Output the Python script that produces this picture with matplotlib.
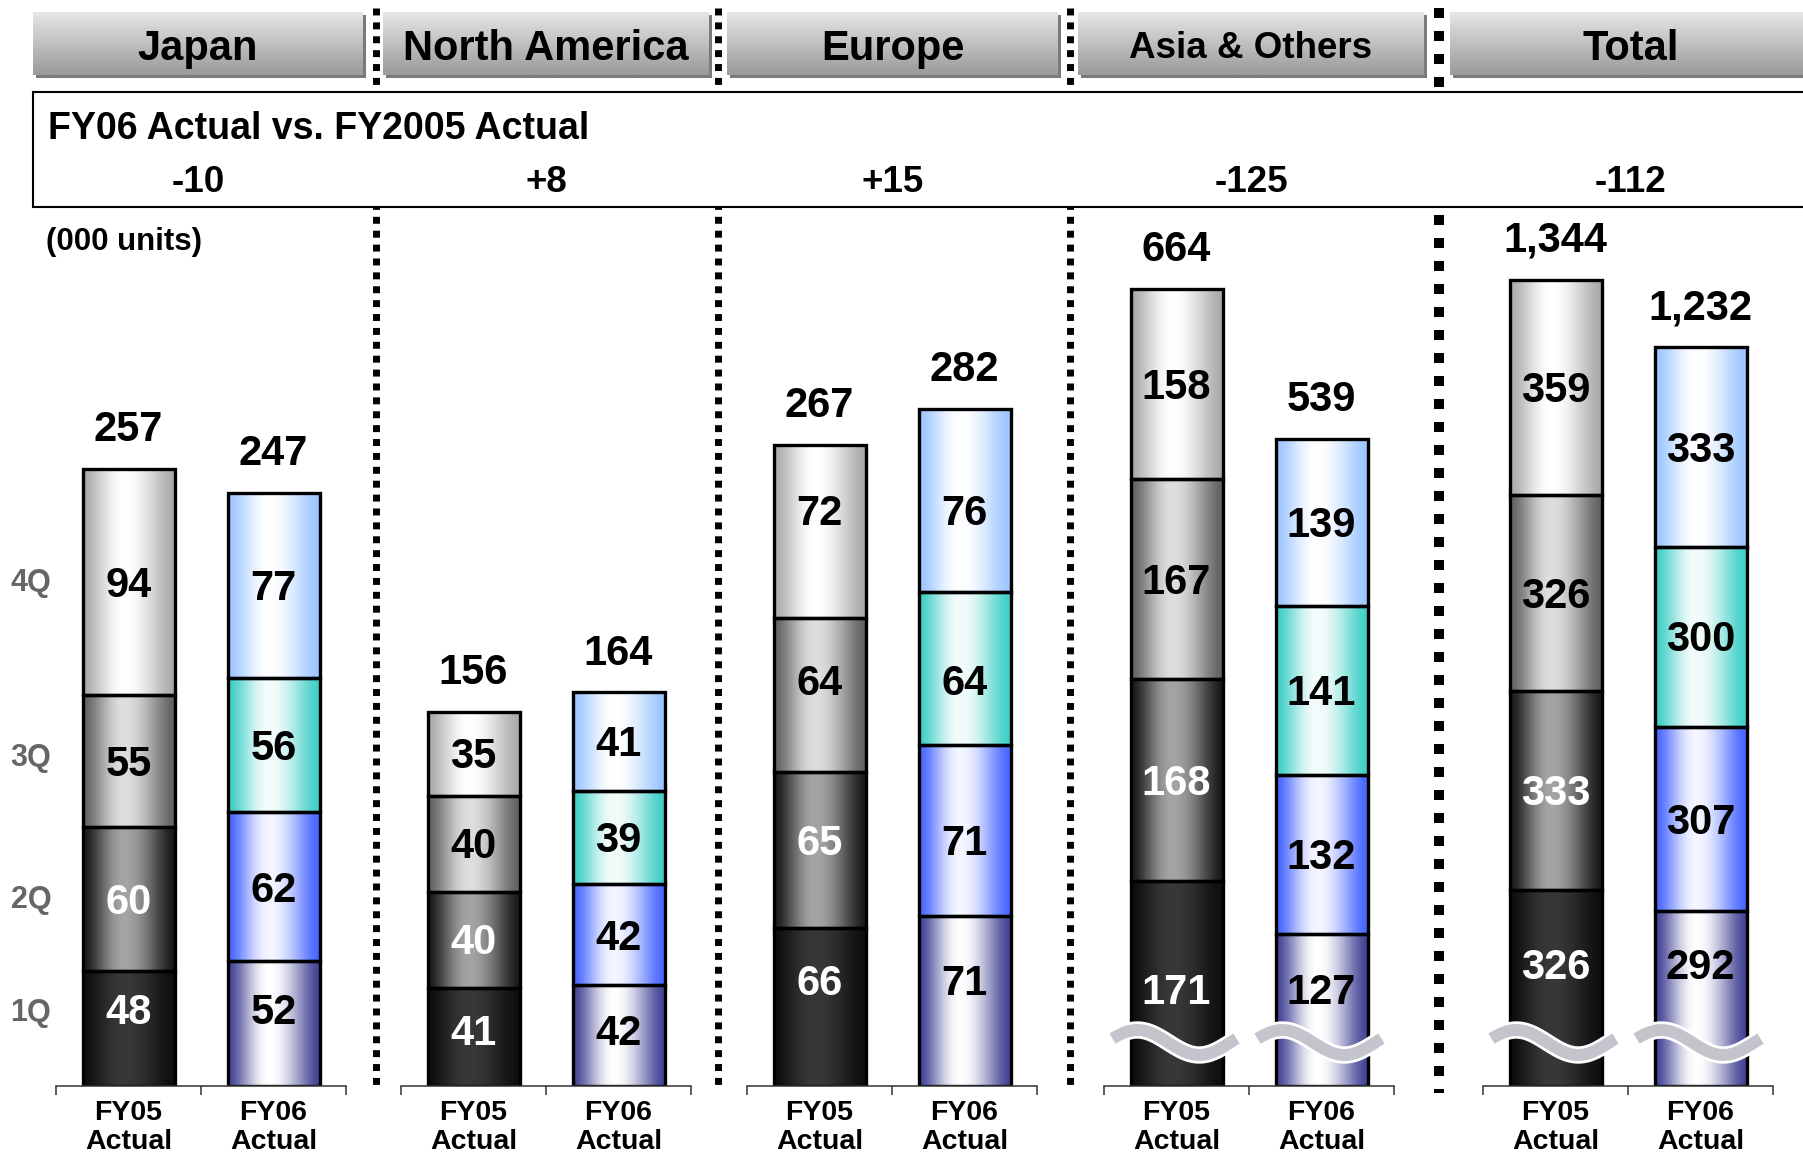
import numpy as np
import matplotlib
matplotlib.use('Agg')
import matplotlib.pyplot as plt
import matplotlib.patheffects as pe
from matplotlib import transforms
from matplotlib.patches import Rectangle
from matplotlib.colors import to_rgb

plt.rcParams['font.family'] = ['Liberation Sans', 'DejaVu Sans']
plt.rcParams['font.weight'] = 'bold'

# ---- data ----
regions = ['Japan', 'North America', 'Europe', 'Asia & Others', 'Total']
quarters = ['1Q', '2Q', '3Q', '4Q']
bar_names = ['FY05\nActual', 'FY06\nActual']
fy05 = [[48, 60, 55, 94], [41, 40, 40, 35], [66, 65, 64, 72], [171, 168, 167, 158], [326, 333, 326, 359]]
fy06 = [[52, 62, 56, 77], [42, 42, 39, 41], [71, 71, 64, 76], [127, 132, 141, 139], [292, 307, 300, 333]]
subtitle = 'FY06 Actual vs. FY2005 Actual'
units = '(000 units)'

# ---- layout (pixels of the 1803x1155 canvas) ----
W, H = 1803, 1155
base_px, top_px = 1086, 250
ax_left = [56, 401, 747, 1104, 1483]
ax_w = 290
px_per_unit = [2.4, 2.4, 2.4, 1.2, 0.6]
has_break = [False, False, False, True, True]
q1_label_px = [77, 56, 106, 97, 122]
# label rows shared by both bars (px above the baseline); None = centre of segment
label_rows = [None, None, [106, 246, 406, 576], None, None]
header_box = [(33, 363), (383, 709), (727, 1058), (1078, 1424), (1450, 1812)]
header_size = [30, 30, 30, 26.5, 30]
thin_seps = [375.5, 717.5, 1069.5]
thick_sep = 1438.5
quarter_y = [1021, 908, 766, 591]
bw = 92 / 145

# colours: (edge, peak) per quarter
fy05_cols = [('#0e0e0e', '#383838'), ('#1a1a1a', '#a4a4a4'), ('#626262', '#dedede'), ('#aaaaaa', '#ffffff')]
fy06_cols = [('#434396', '#ffffff'), ('#4766ff', '#f4f6ff'), ('#3ecfc7', '#f4fcfb'), ('#9cc6ff', '#ffffff')]


def shade(edge, peak, n=80, p=0.45):
    t = np.linspace(0, 1, n)
    u = np.where(t < p, t / (2 * p), 0.5 + (t - p) / (2 * (1 - p)))
    f = np.sin(np.pi * u) ** 1.5
    e = np.array(to_rgb(edge))
    c = np.array(to_rgb(peak))
    return (e + (c - e) * f[:, None])[None, :, :]


fig = plt.figure(figsize=(W / 100, H / 100), dpi=100)

# background / decoration axes in pixel coordinates
ax0 = fig.add_axes([0, 0, 1, 1], zorder=0)

for x in thin_seps:
    ax0.plot([x, x], [8, 1088], color='black', lw=5, linestyle=(0, (1, 1)), zorder=1)
ax0.plot([thick_sep, thick_sep], [8, 1093], color='black', lw=7.2, linestyle=(0, (1.0, 1.3)), zorder=1)

hgrad = np.linspace(np.array(to_rgb('#e6e6e6')), np.array(to_rgb('#9a9a9a')), 60)[:, None, :]
for (x0, x1), name, fs in zip(header_box, regions, header_size):
    ax0.add_patch(Rectangle((x0 + 3, 15), x1 - x0, 63, facecolor='#7a7a7a', edgecolor='none', zorder=2))
    ax0.imshow(hgrad, extent=(x0, x1, 75, 12), aspect='auto', interpolation='bilinear', zorder=3)
    ax0.text((x0 + x1) / 2, 60 if fs == 30 else 58, name, ha='center', va='baseline',
             fontsize=fs, zorder=4)

ax0.add_patch(Rectangle((33, 92), 1800, 115, facecolor='white', edgecolor='black', lw=1.5, zorder=5))
ax0.text(48, 139, subtitle, ha='left', va='baseline', fontsize=27, zorder=6)
for (x0, x1), a, b in zip(header_box, fy05, fy06):
    d = sum(b) - sum(a)
    ax0.text((x0 + x1) / 2, 192, f'{d:+d}', ha='center', va='baseline', fontsize=26.5, zorder=6)
ax0.text(46, 250, units, ha='left', va='baseline', fontsize=22.5, zorder=6)
for q, y in zip(quarters, quarter_y):
    ax0.text(31, y, q, ha='center', va='baseline', fontsize=22, color='#666666', zorder=6)

ax0.set_xlim(0, W)
ax0.set_ylim(H, 0)
ax0.axis('off')

# bar axes, one per region
for i in range(len(regions)):
    ax = fig.add_axes([ax_left[i] / W, (H - base_px) / H, ax_w / W, (base_px - top_px) / H], zorder=2)
    ax.patch.set_visible(False)
    for j, (vals, cols) in enumerate([(fy05[i], fy05_cols), (fy06[i], fy06_cols)]):
        bottoms = np.cumsum([0] + vals[:-1])
        for k, (v, b) in enumerate(zip(vals, bottoms)):
            ax.imshow(shade(*cols[k]), extent=(j - bw / 2, j + bw / 2, b, b + v), aspect='auto',
                      interpolation='bilinear', zorder=1)
        ax.bar([j] * len(vals), vals, bottom=bottoms, width=bw, facecolor='none',
               edgecolor='black', lw=2.4, zorder=2)
        for k, (v, b) in enumerate(zip(vals, bottoms)):
            colr = 'white' if (j == 0 and k < 2) else 'black'
            if label_rows[i] is not None:
                yc = label_rows[i][k] / px_per_unit[i]
            elif k == 0:
                yc = q1_label_px[i] / px_per_unit[i]
            else:
                yc = b + v / 2
            ax.annotate(str(v), xy=(j, yc), xytext=(0, -10.7), textcoords='offset points',
                        ha='center', va='baseline', fontsize=30, color=colr, zorder=4,
                        annotation_clip=False)
        tot = sum(vals)
        ax.annotate(f'{tot:,}', xy=(j, tot), xytext=(0, 20), textcoords='offset points',
                    ha='center', va='baseline', fontsize=30, annotation_clip=False)
        if has_break[i]:
            xs = np.linspace(-64, 60, 80)
            t = (xs + 64) / 124
            ypx = 1042.5 - 12.5 * np.sin(2 * np.pi * (t + 0.05))
            trans = transforms.blended_transform_factory(ax.transData, ax.transAxes)
            ax.plot(j + xs / 145, (base_px - ypx) / (base_px - top_px), transform=trans,
                    color='#c4c4cc', lw=8.6, solid_capstyle='butt', zorder=6, clip_on=False,
                    path_effects=[pe.Stroke(linewidth=12.5, foreground='white'), pe.Normal()])

    ax.set_xlim(-0.5, 1.5)
    ax.set_ylim(0, (base_px - top_px) / px_per_unit[i])
    for s in ['left', 'right', 'top']:
        ax.spines[s].set_visible(False)
    ax.spines['bottom'].set_linewidth(1.1)
    ax.spines['bottom'].set_color('#333333')
    ax.set_yticks([])
    ax.set_xticks([-0.5, 0.5, 1.5])
    ax.set_xticklabels(['', '', ''])
    ax.tick_params(axis='x', which='major', direction='out', length=6.5, width=1.1, color='#333333')
    ax.set_xticks([0, 1], minor=True)
    ax.set_xticklabels(bar_names, minor=True, fontsize=20.5, fontweight='bold', linespacing=1.15)
    ax.tick_params(axis='x', which='minor', length=0, pad=10)

fig.savefig('out.png', dpi=100)
